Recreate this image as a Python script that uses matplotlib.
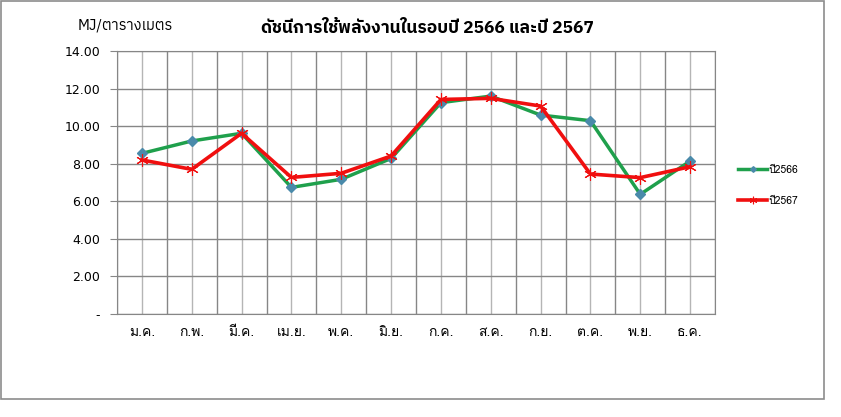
import matplotlib
matplotlib.use('Agg')
import numpy as np
import matplotlib.pyplot as plt
from matplotlib.patches import Rectangle

months = ['ม.ค.', 'ก.พ.', 'มี.ค.', 'เม.ย.', 'พ.ค.', 'มิ.ย.',
          'ก.ค.', 'ส.ค.', 'ก.ย.', 'ต.ค.', 'พ.ย.', 'ธ.ค.']
y2566 = [8.55, 9.21, 9.62, 6.74, 7.17, 8.28, 11.25, 11.60, 10.59, 10.29, 6.37, 8.14]
y2567 = [8.20, 7.70, 9.62, 7.27, 7.49, 8.41, 11.42, 11.48, 11.07, 7.45, 7.26, 7.84]
yticks = [0, 2, 4, 6, 8, 10, 12, 14]
ytick_labels = ['-', '2.00', '4.00', '6.00', '8.00', '10.00', '12.00', '14.00']

thai = ['IBM Plex Sans Thai', 'DejaVu Sans']
thai_looped = ['Loma', 'DejaVu Sans']

fig = plt.figure(figsize=(8.41, 4.17), dpi=100)
fig.patches.append(Rectangle((1 / 841, 18 / 417), 823 / 841, 398 / 417,
                             transform=fig.transFigure, fill=False,
                             edgecolor='#8c8c8c', linewidth=1.2))

ax = fig.add_axes([117 / 841, 103 / 417, 598 / 841, 263 / 417])
x = np.arange(len(months)) + 0.5

ax.plot(x, y2566, color='#1fa04c', linewidth=2.5, marker='D', markersize=4.8,
        markerfacecolor='#4a8aaa', markeredgecolor='#4a8aaa', label='ปี2566', zorder=3)
ax.plot(x, y2567, color='#f00f0f', linewidth=2.6, marker=(6, 2, 0), markersize=9,
        markeredgewidth=0.8, markeredgecolor='#f00f0f', label='ปี2567', zorder=4)

ax.set_xlim(0, len(months))
ax.set_ylim(0, 14)
ax.set_xticks(x)
ax.set_xticklabels(months, family=thai_looped, fontsize=10)
ax.set_xticks(np.arange(len(months) + 1), minor=True)
ax.set_yticks(yticks)
ax.set_yticklabels(ytick_labels, family='DejaVu Sans', fontsize=9)

ax.grid(which='major', axis='x', color='#b5b5b5', linewidth=1)
ax.grid(which='minor', axis='x', color='#868686', linewidth=1)
ax.grid(which='major', axis='y', color='#868686', linewidth=1)
ax.set_axisbelow(True)
ax.tick_params(axis='x', which='both', length=0, pad=9)
ax.tick_params(axis='y', length=5, color='#868686', pad=7)
for s in ax.spines.values():
    s.set_color('#868686')

fig.text(427 / 841, 389 / 417, 'ดัชนีการใช้พลังงานในรอบปี 2566 และปี 2567',
         ha='center', va='center', fontsize=12.5, fontweight='bold', family=thai)
fig.text(78 / 841, 392 / 417, 'MJ/ตารางเมตร', ha='left', va='center',
         fontsize=10.5, family=thai)

ax.legend(loc='upper left', bbox_to_anchor=(738 / 841, 252 / 417),
          bbox_transform=fig.transFigure, frameon=False, borderaxespad=0,
          borderpad=0, handlelength=2.8, handletextpad=0.1, labelspacing=2.0,
          markerscale=0.6, prop={'family': thai_looped, 'size': 7.5})

fig.savefig('out.png')
